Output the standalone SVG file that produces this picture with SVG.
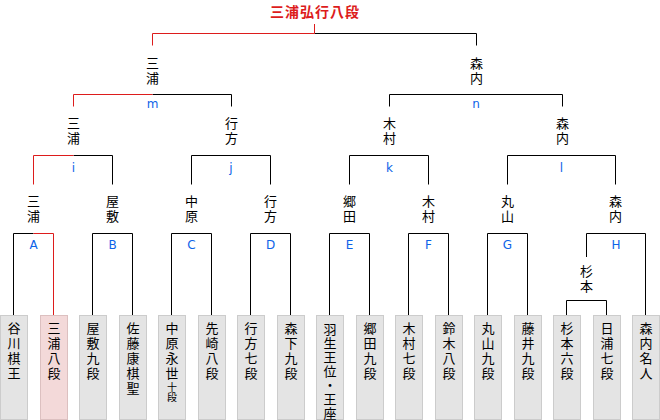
<svg xmlns="http://www.w3.org/2000/svg" width="660" height="420" viewBox="0 0 660 420">
<style>
.ln{fill:none;stroke:#000;stroke-width:1}
.rd{fill:none;stroke:#dd1c1c;stroke-width:1}
.nm{font-family:"Noto Sans CJK JP","DejaVu Sans",sans-serif;font-size:13px;fill:#000;writing-mode:vertical-rl;text-orientation:upright;letter-spacing:2px}
.sm{font-size:10px;letter-spacing:0}
.hb{letter-spacing:1px}
.lb{font-family:"DejaVu Sans","Liberation Sans",sans-serif;font-size:12px;fill:#0d63e8;text-anchor:middle}
.tt{font-family:"Noto Sans CJK JP",sans-serif;font-size:14px;font-weight:bold;fill:#dd1c1c;text-anchor:middle;dominant-baseline:central;letter-spacing:1px}
.bx{fill:#e4e4e4;stroke:#cccccc;stroke-width:1}
.bw{fill:#f3d9d9;stroke:#dcc0c0;stroke-width:1}
</style>
<g id="connectors">
<path class="ln" d="M314.5,33.5H476.5V45.5"/>
<path class="rd" d="M314.5,24V33.5H152.5V45.5"/>
<path class="ln" d="M152.5,94.5H231.5V106.5"/>
<path class="rd" d="M152.5,94.5H73.5V106.5"/>
<path class="ln" d="M389.5,106.5V94.5H562.5V106.5"/>
<path class="ln" d="M73.5,155.5H112.5V184.5"/>
<path class="rd" d="M73.5,155.5H33.5V184.5"/>
<path class="ln" d="M191.5,184.5V155.5H270.5V184.5"/>
<path class="ln" d="M349.5,184.5V155.5H428.5V184.5"/>
<path class="ln" d="M507.5,184.5V155.5H615.5V184.5"/>
<path class="ln" d="M13.5,315V233.5H33.5"/>
<path class="rd" d="M33.5,233.5H53.5V315"/>
<path class="ln" d="M92.5,315V233.5H132.5V315"/>
<path class="ln" d="M171.5,315V233.5H211.5V315"/>
<path class="ln" d="M250.5,315V233.5H290.5V315"/>
<path class="ln" d="M329.5,315V233.5H369.5V315"/>
<path class="ln" d="M408.5,315V233.5H448.5V315"/>
<path class="ln" d="M487.5,315V233.5H527.5V315"/>
<path class="ln" d="M586.5,257V233.5H645.5V315"/>
<path class="ln" d="M566.5,315V300.5H606.5V315"/>
</g>
<g id="title"><text class="tt" x="315" y="11">三浦弘行八段</text></g>
<g id="label-m"><text class="lb" x="152.5" y="108">m</text></g>
<g id="label-n"><text class="lb" x="476" y="108">n</text></g>
<g id="label-i"><text class="lb" x="73.5" y="172">i</text></g>
<g id="label-j"><text class="lb" x="231" y="172">j</text></g>
<g id="label-k"><text class="lb" x="389.5" y="172">k</text></g>
<g id="label-l"><text class="lb" x="561.5" y="172">l</text></g>
<g id="label-A"><text class="lb" x="33.5" y="249">A</text></g>
<g id="label-B"><text class="lb" x="112.5" y="249">B</text></g>
<g id="label-C"><text class="lb" x="191.5" y="249">C</text></g>
<g id="label-D"><text class="lb" x="270.5" y="249">D</text></g>
<g id="label-E"><text class="lb" x="349.5" y="249">E</text></g>
<g id="label-F"><text class="lb" x="428.5" y="249">F</text></g>
<g id="label-G"><text class="lb" x="507.5" y="249">G</text></g>
<g id="label-H"><text class="lb" x="616" y="249">H</text></g>
<g id="sf-miura"><text class="nm" x="152.5" y="56.5">三浦</text></g>
<g id="sf-moriuchi"><text class="nm" x="476.5" y="56.5">森内</text></g>
<g id="qf-miura"><text class="nm" x="73.5" y="116.5">三浦</text></g>
<g id="qf-namekata"><text class="nm" x="231.5" y="116.5">行方</text></g>
<g id="qf-kimura"><text class="nm" x="389.5" y="116.5">木村</text></g>
<g id="qf-moriuchi"><text class="nm" x="562.5" y="116.5">森内</text></g>
<g id="r2-miura"><text class="nm" x="33.5" y="194.5">三浦</text></g>
<g id="r2-yashiki"><text class="nm" x="112.5" y="194.5">屋敷</text></g>
<g id="r2-nakahara"><text class="nm" x="191.5" y="194.5">中原</text></g>
<g id="r2-namekata"><text class="nm" x="270.5" y="194.5">行方</text></g>
<g id="r2-goda"><text class="nm" x="349.5" y="194.5">郷田</text></g>
<g id="r2-kimura"><text class="nm" x="428.5" y="194.5">木村</text></g>
<g id="r2-maruyama"><text class="nm" x="507.5" y="194.5">丸山</text></g>
<g id="r2-moriuchi"><text class="nm" x="615.5" y="194.5">森内</text></g>
<g id="r1-sugimoto"><text class="nm" x="586.5" y="264.5">杉本</text></g>
<g id="p-tanigawa"><rect class="bx" x="0.5" y="315.5" width="27" height="104"/><text class="nm" x="14" y="322">谷川棋王</text></g>
<g id="p-miura"><rect class="bw" x="40.5" y="315.5" width="27" height="104"/><text class="nm" x="54" y="322">三浦八段</text></g>
<g id="p-yashiki"><rect class="bx" x="79.5" y="315.5" width="27" height="104"/><text class="nm" x="93" y="322">屋敷九段</text></g>
<g id="p-sato"><rect class="bx" x="119.5" y="315.5" width="27" height="104"/><text class="nm" x="133" y="322">佐藤康棋聖</text></g>
<g id="p-nakahara"><rect class="bx" x="158.5" y="315.5" width="27" height="104"/><text class="nm" x="172" y="322">中原永世<tspan class="sm">十段</tspan></text></g>
<g id="p-senzaki"><rect class="bx" x="198.5" y="315.5" width="27" height="104"/><text class="nm" x="212" y="322">先崎八段</text></g>
<g id="p-namekata"><rect class="bx" x="237.5" y="315.5" width="27" height="104"/><text class="nm" x="251" y="322">行方七段</text></g>
<g id="p-morishita"><rect class="bx" x="277.5" y="315.5" width="27" height="104"/><text class="nm" x="291" y="322">森下九段</text></g>
<g id="p-habu"><rect class="bx" x="316.5" y="315.5" width="27" height="104"/><text class="nm hb" x="330" y="322.5">羽生王位・王座</text></g>
<g id="p-goda"><rect class="bx" x="356.5" y="315.5" width="27" height="104"/><text class="nm" x="370" y="322">郷田九段</text></g>
<g id="p-kimura"><rect class="bx" x="395.5" y="315.5" width="27" height="104"/><text class="nm" x="409" y="322">木村七段</text></g>
<g id="p-suzuki"><rect class="bx" x="435.5" y="315.5" width="27" height="104"/><text class="nm" x="449" y="322">鈴木八段</text></g>
<g id="p-maruyama"><rect class="bx" x="474.5" y="315.5" width="27" height="104"/><text class="nm" x="488" y="322">丸山九段</text></g>
<g id="p-fujii"><rect class="bx" x="514.5" y="315.5" width="27" height="104"/><text class="nm" x="528" y="322">藤井九段</text></g>
<g id="p-sugimoto"><rect class="bx" x="553.5" y="315.5" width="27" height="104"/><text class="nm" x="567" y="322">杉本六段</text></g>
<g id="p-hiura"><rect class="bx" x="593.5" y="315.5" width="27" height="104"/><text class="nm" x="607" y="322">日浦七段</text></g>
<g id="p-moriuchi"><rect class="bx" x="632.5" y="315.5" width="27" height="104"/><text class="nm" x="646" y="322">森内名人</text></g>
</svg>
